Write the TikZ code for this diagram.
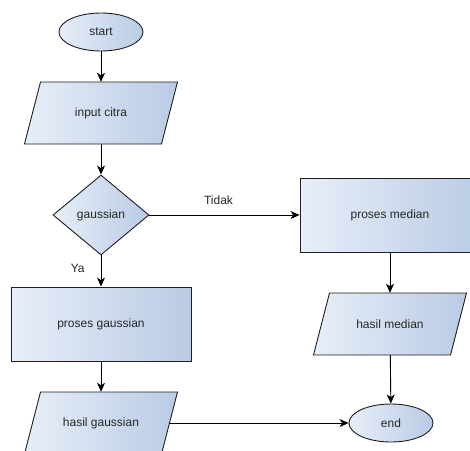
\documentclass[tikz,border=0pt]{standalone}
\usepackage{fontspec}
\setmainfont{Liberation Sans}
\usetikzlibrary{shapes.geometric,arrows.meta}
\definecolor{fillA}{HTML}{E8EEF8}
\definecolor{fillB}{HTML}{B9CBE5}
\definecolor{edgeC}{HTML}{1E1E1E}
\tikzset{
  skin/.style={draw=edgeC, line width=0.9pt, left color=fillA, right color=fillB},
  base/.style={skin, font=\fontsize{12}{14}\selectfont, text=black!85, inner sep=0pt},
  terminal/.style={base, ellipse, minimum width=84pt, minimum height=38pt},
  process/.style={base, rectangle, minimum width=180pt, minimum height=74pt},
  decision/.style={base, diamond, minimum width=96pt, minimum height=80pt, aspect=1.2},
  iotext/.style={rectangle, draw=none, minimum width=137pt, minimum height=62pt,
    font=\fontsize{12}{14}\selectfont, text=black!85, inner sep=0pt},
  flow/.style={draw=black, line width=0.9pt, -{Stealth[length=9pt,width=8pt,inset=2.5pt]}},
  lbl/.style={font=\fontsize{12}{14}\selectfont, text=black!85, inner sep=2pt}
}
% input/output parallelogram: 62 high, edges 137 long, slanted by 16
\newcommand\iobox[4]{%
  \path[skin] ({#2-60.5},{#3-31}) -- ({#2+76.5},{#3-31})
    -- ({#2+60.5},{#3+31}) -- ({#2-76.5},{#3+31}) -- cycle;
  \node[iotext] (#1) at (#2,#3) {#4};
}
\begin{document}
\begin{tikzpicture}[x=1pt, y=-1pt]
  \useasboundingbox (0,0) rectangle (470,450);
  \clip (0,0) rectangle (470,450);

  % left column
  \node[terminal] (start) at (101,32) {start};
  \iobox{input}{101}{113}{input citra}
  \node[decision] (gauss) at (101,215) {gaussian};
  \node[process] (pgauss) at (101,324) {proses gaussian};
  \iobox{hgauss}{101}{423}{hasil gaussian}

  % right column
  \node[process] (pmedian) at (390,215) {proses median};
  \iobox{hmedian}{390}{324}{hasil median}
  \node[terminal] (end) at (391,423) {end};

  % connectors
  \draw[flow] (start) -- (input);
  \draw[flow] (input) -- (gauss);
  \draw[flow] (gauss) -- node[lbl, pos=0.42, left=14pt] {Ya} (pgauss);
  \draw[flow] (pgauss) -- (hgauss);
  \draw[flow] (gauss) -- node[lbl, pos=0.46, above=8pt] {Tidak} (pmedian);
  \draw[flow] (pmedian.south -| hmedian.north) -- (hmedian.north);
  \draw[flow] (hmedian) -- (end);
  \draw[flow] (hgauss) -- (end);
\end{tikzpicture}
\end{document}
